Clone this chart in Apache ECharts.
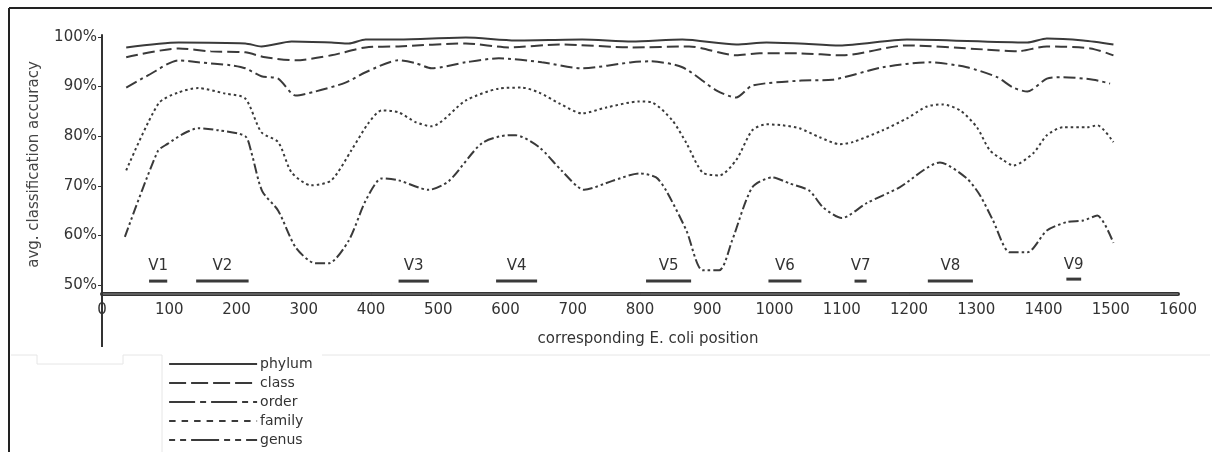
<!DOCTYPE html>
<html>
<head>
<meta charset="utf-8">
<script src="https://cdn.jsdelivr.net/npm/echarts@6/dist/echarts.min.js"></script>
<style>
  html, body { margin: 0; padding: 0; background: #fff; }
  #chart { width: 1212px; height: 452px; }
</style>
</head>
<body>
<div id="chart"></div>
<script>
// Average classification accuracy (%) along the 16S gene, [E. coli position, accuracy]
const phylum = [[36, 97.9], [114, 98.9], [213, 98.7], [237, 98.1], [282, 99.1], [341, 98.9], [367, 98.7],
  [392, 99.5], [441, 99.5], [541, 99.9], [615, 99.3], [714, 99.5], [788, 99.1], [863, 99.5], [943, 98.5],
  [988, 98.9], [1037, 98.7], [1097, 98.3], [1197, 99.5], [1376, 98.9], [1405, 99.7], [1459, 99.3], [1504, 98.5]];

const classLevel = [[36, 95.9], [114, 97.7], [162, 97.1], [213, 96.9], [243, 95.9], [288, 95.3], [341, 96.3],
  [392, 97.9], [441, 98.1], [541, 98.7], [605, 97.9], [680, 98.5], [788, 97.9], [873, 98.1], [943, 96.3],
  [978, 96.7], [1037, 96.7], [1101, 96.3], [1197, 98.3], [1310, 97.5], [1361, 97.1], [1405, 98.1],
  [1470, 97.7], [1504, 96.3]];

const order = [[36, 89.8], [69, 92.3], [114, 95.3], [143, 94.9], [192, 94.3], [213, 93.7], [237, 92.1],
  [262, 91.6], [288, 88.2], [317, 89.0], [362, 90.8], [392, 92.9], [441, 95.3], [467, 94.7], [490, 93.7],
  [541, 94.9], [590, 95.7], [654, 94.9], [714, 93.7], [788, 94.9], [814, 95.1], [863, 93.9], [914, 89.2],
  [943, 87.8], [967, 90.2], [1037, 91.2], [1086, 91.4], [1161, 93.9], [1231, 94.9], [1286, 93.9],
  [1331, 91.9], [1355, 89.8], [1376, 89.0], [1405, 91.6], [1429, 91.9], [1474, 91.4], [1499, 90.6]];

const family = [[36, 73.1], [84, 86.6], [113, 88.8], [143, 89.7], [183, 88.6], [213, 87.6], [237, 80.8],
  [262, 78.8], [282, 72.7], [311, 70.1], [341, 71.1], [371, 77.2], [396, 82.6], [416, 85.2], [441, 84.8],
  [467, 82.8], [490, 82.0], [541, 87.2], [590, 89.6], [624, 89.8], [650, 88.8], [680, 86.6], [714, 84.6],
  [750, 85.8], [799, 87.0], [818, 86.8], [848, 83.2], [869, 78.6], [893, 72.7], [918, 72.1], [943, 75.2],
  [967, 81.2], [988, 82.4], [1012, 82.2], [1037, 81.6], [1067, 79.8], [1097, 78.4], [1116, 78.8],
  [1161, 81.2], [1197, 83.6], [1227, 86.0], [1250, 86.4], [1276, 85.2], [1301, 81.8], [1320, 77.2],
  [1340, 75.2], [1355, 74.1], [1385, 76.6], [1405, 80.2], [1429, 81.8], [1465, 81.8], [1480, 82.2],
  [1504, 78.8]];

const genus = [[34, 59.7], [83, 77.0], [98, 78.5], [121, 80.5], [143, 81.6], [173, 81.2], [213, 80.0],
  [222, 76.8], [238, 69.0], [262, 65.0], [288, 57.6], [317, 54.4], [337, 54.4], [367, 59.0], [392, 67.0],
  [416, 71.5], [441, 71.1], [486, 69.2], [516, 71.0], [565, 78.6], [605, 80.2], [615, 80.2], [650, 77.8],
  [684, 73.0], [717, 69.2], [759, 71.0], [799, 72.5], [824, 71.7], [839, 69.0], [869, 61.0], [893, 53.0],
  [918, 53.0], [937, 59.0], [967, 69.7], [997, 71.7], [1022, 70.5], [1052, 69.0], [1072, 65.7],
  [1100, 63.5], [1137, 66.5], [1186, 69.7], [1246, 74.7], [1286, 71.5], [1306, 68.0], [1325, 63.0],
  [1350, 56.6], [1376, 56.6], [1405, 61.0], [1435, 62.7], [1459, 63.0], [1480, 64.0], [1504, 58.5]];

// Hypervariable regions: name, start, end, height of the marker bar (%)
const regionNames = ['V1', 'V2', 'V3', 'V4', 'V5', 'V6', 'V7', 'V8', 'V9'];
const regionStart = [70, 140, 441, 586, 809, 991, 1119, 1228, 1434];
const regionEnd = [97, 218, 486, 647, 876, 1040, 1137, 1295, 1456];
const regionLevel = [50.8, 50.8, 50.8, 50.8, 50.8, 50.8, 50.8, 50.8, 51.2];

const yTicks = [50, 60, 70, 80, 90, 100];
const levelNames = ['phylum', 'class', 'order', 'family', 'genus'];

const FONT = '"DejaVu Sans", Verdana, sans-serif';
const INK = '#3a3a3a';

const levelData = [phylum, classLevel, order, family, genus];
// dash patterns along the curves
const levelDash = [
  'solid',
  [12, 5],
  [12, 4, 3, 4],
  [2.5, 3],
  [10, 3, 2.5, 3, 2.5, 3]
];
// the same patterns, drawn larger in the key
const keyDash = [
  'solid',
  [17, 5],
  [26, 5, 6, 5],
  [6.5, 6],
  [6, 5, 6, 5, 28, 5]
];

const chart = echarts.init(document.getElementById('chart'), null, { renderer: 'canvas' });

const lineSeries = levelNames.map((name, i) => ({
  type: 'line',
  name: name,
  data: levelData[i],
  symbol: 'none',
  smooth: 0.25,
  lineStyle: { color: INK, width: 2, type: levelDash[i], cap: 'butt' },
  itemStyle: { color: INK },
  z: 3
}));

const regionSeries = {
  type: 'custom',
  name: 'regions',
  data: regionNames.map((n, i) => [regionStart[i], regionEnd[i], regionLevel[i]]),
  encode: { x: [0, 1], y: 2 },
  renderItem: function (params, api) {
    const a = api.coord([api.value(0), api.value(2)]);
    const b = api.coord([api.value(1), api.value(2)]);
    return {
      type: 'group',
      children: [
        { type: 'line', shape: { x1: a[0], y1: a[1], x2: b[0], y2: b[1] },
          style: { stroke: INK, lineWidth: 3 } },
        { type: 'text', style: {
            text: regionNames[params.dataIndex], x: (a[0] + b[0]) / 2, y: a[1] - 7,
            align: 'center', verticalAlign: 'bottom', font: '15px ' + FONT, fill: '#333' } }
      ]
    };
  },
  z: 4
};

const option = {
  animation: false,
  backgroundColor: '#fff',
  grid: { left: 102, right: 34, top: 35, bottom: 158, containLabel: false },
  xAxis: {
    type: 'value',
    min: 0, max: 1600, interval: 100,
    name: 'corresponding E. coli position',
    nameLocation: 'middle',
    nameGap: 38,
    nameTextStyle: { fontFamily: FONT, fontSize: 15, color: '#333', padding: [0, 0, 0, 16] },
    axisLine: { show: true, onZero: false, lineStyle: { color: '#333', width: 4 } },
    axisTick: { show: false },
    splitLine: { show: false },
    axisLabel: { fontFamily: FONT, fontSize: 15, color: '#333', margin: 9, formatter: v => String(v) }
  },
  yAxis: {
    type: 'value',
    min: 48.2, max: 100.4,
    name: 'avg. classification accuracy',
    nameLocation: 'middle',
    nameRotate: 90,
    nameGap: 60,
    nameTextStyle: { fontFamily: FONT, fontSize: 15, color: '#444' },
    axisLine: { show: true, lineStyle: { color: '#333', width: 2 } },
    axisTick: { show: true, length: 4, customValues: yTicks, lineStyle: { color: '#333', width: 1 } },
    splitLine: { show: false },
    axisLabel: { fontFamily: FONT, fontSize: 15, color: '#333', margin: 5,
      customValues: yTicks, formatter: v => v + '%' }
  },
  legend: {
    data: levelNames.map((name, i) => ({
      name: name,
      lineStyle: { type: keyDash[i], width: 2.2, color: INK }
    })),
    orient: 'vertical',
    left: 168, top: 357, padding: 0,
    itemWidth: 88, itemHeight: 14, itemGap: 5,
    itemStyle: { opacity: 0 },
    textStyle: { fontFamily: FONT, fontSize: 14, color: '#333', padding: [0, 0, 0, -2] },
    selectedMode: false
  },
  graphic: [
    // frame
    { type: 'line', shape: { x1: 9, y1: 8, x2: 1212, y2: 8 }, style: { stroke: '#222', lineWidth: 2 }, silent: true },
    { type: 'line', shape: { x1: 9, y1: 8, x2: 9, y2: 452 }, style: { stroke: '#222', lineWidth: 2 }, silent: true },
    // y axis line continuing below the x axis
    { type: 'line', shape: { x1: 102, y1: 294, x2: 102, y2: 347 }, style: { stroke: '#333', lineWidth: 2 }, silent: true },
    // light core of the double x axis rule
    { type: 'line', shape: { x1: 103, y1: 294, x2: 1178, y2: 294 }, style: { stroke: '#8a8a8a', lineWidth: 1 }, silent: true, z: 10 },
    // faint panel edges below the plot
    { type: 'polyline', shape: { points: [[11, 355], [37, 355], [37, 364], [123, 364], [123, 355], [162, 355], [162, 452]] },
      style: { stroke: '#e6e6e6', lineWidth: 1, fill: null }, silent: true },
    { type: 'line', shape: { x1: 322, y1: 355, x2: 1210, y2: 355 }, style: { stroke: '#e6e6e6', lineWidth: 1 }, silent: true }
  ],
  series: [...lineSeries, regionSeries]
};

chart.setOption(option);
</script>
</body>
</html>
